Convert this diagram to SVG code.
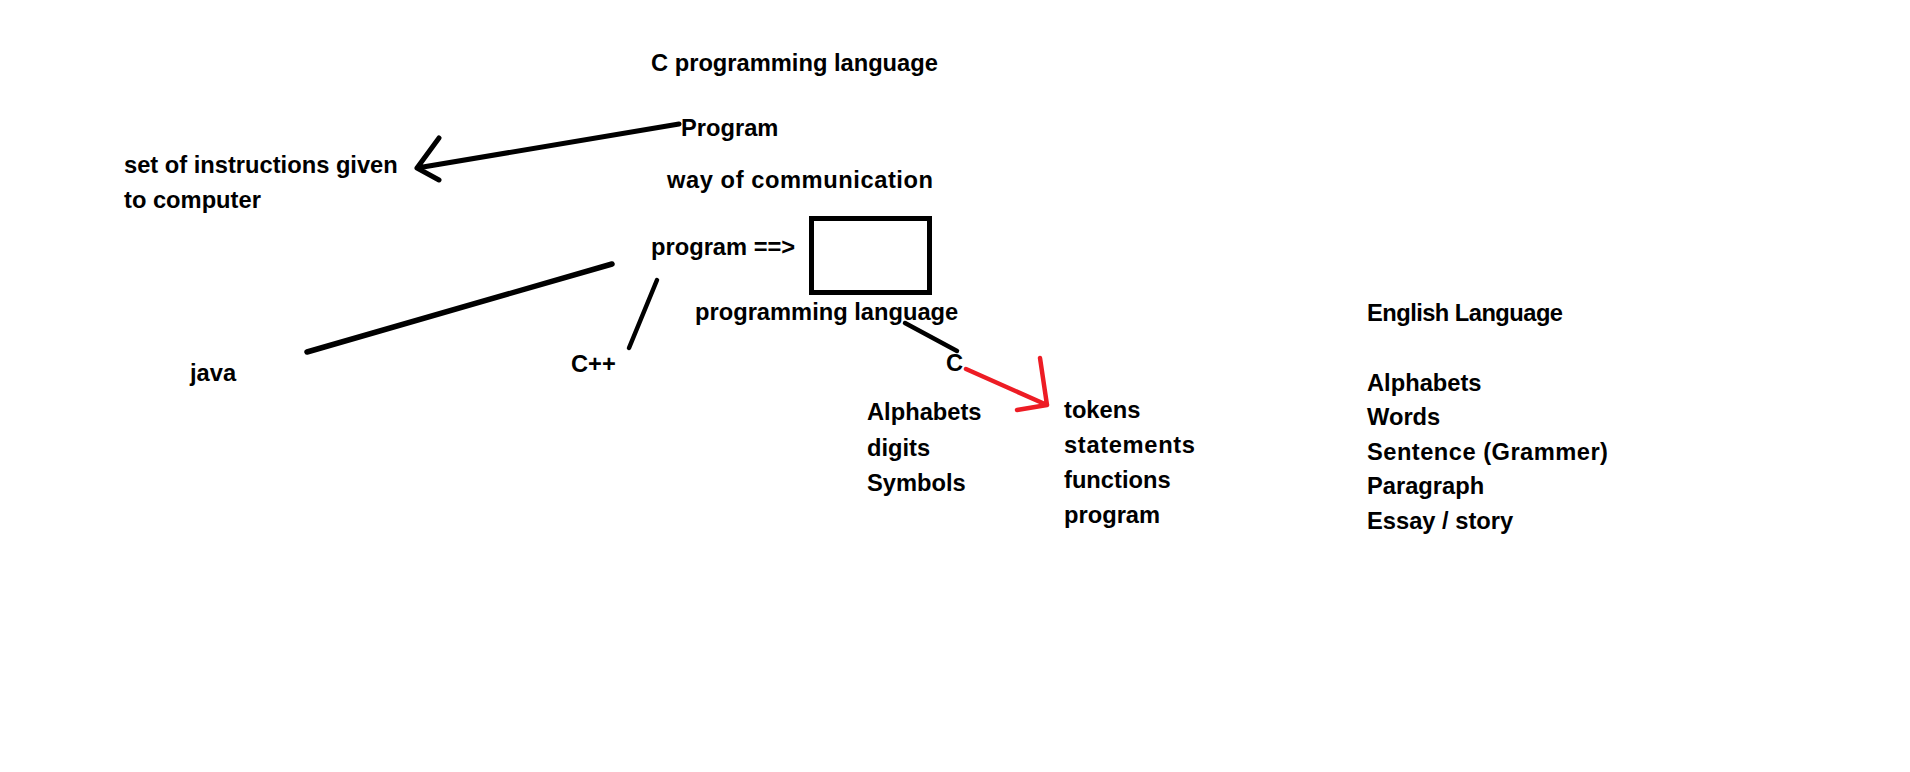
<svg xmlns="http://www.w3.org/2000/svg" width="1910" height="772" viewBox="0 0 1910 772">
<style>
text{font-family:"Liberation Sans",Arial,sans-serif;font-weight:bold;font-size:23.7px;fill:#000}
.k{stroke:#000;fill:none;stroke-linecap:round;stroke-linejoin:round}
.r{stroke:#ed1c24;fill:none;stroke-linecap:round;stroke-linejoin:round;stroke-width:4.5}
</style>
<rect width="1910" height="772" fill="#fff"/>
<g id="title"><text x="651" y="71">C programming language</text></g>
<g id="program"><text x="681" y="136">Program</text></g>
<g id="definition"><text x="124" y="173">set of instructions given</text><text x="124" y="208">to computer</text></g>
<g id="way"><text x="667" y="188" textLength="266" lengthAdjust="spacing">way of communication</text></g>
<g id="program-arrow"><text x="651" y="255">program ==&gt;</text></g>
<g id="box"><rect x="811.5" y="218.5" width="118" height="74" fill="none" stroke="#000" stroke-width="5"/></g>
<g id="proglang"><text x="695" y="320">programming language</text></g>
<g id="java"><text x="190" y="381">java</text></g>
<g id="cpp"><text x="571" y="372">C++</text></g>
<g id="c"><text x="946" y="371">C</text></g>
<g id="charset"><text x="867" y="420">Alphabets</text><text x="867" y="456">digits</text><text x="867" y="491">Symbols</text></g>
<g id="elements"><text x="1064" y="418">tokens</text><text x="1064" y="453" textLength="131" lengthAdjust="spacing">statements</text><text x="1064" y="488">functions</text><text x="1064" y="523">program</text></g>
<g id="english"><text x="1367" y="321" textLength="196" lengthAdjust="spacing">English Language</text><text x="1367" y="391">Alphabets</text><text x="1367" y="425">Words</text><text x="1367" y="460" textLength="241" lengthAdjust="spacing">Sentence (Grammer)</text><text x="1367" y="494">Paragraph</text><text x="1367" y="529">Essay / story</text></g>
<g id="connectors">
<path class="k" stroke-width="5" d="M679 124 L417 168 M439 138 L417 168 L439 180"/>
<path class="k" stroke-width="5.5" d="M612 264 L307 352"/>
<path class="k" stroke-width="4.5" d="M657 280 L629 348"/>
<path class="k" stroke-width="4.5" d="M905 323 L957 351"/>
<path class="r" d="M966 369 L1047 405 M1040 358 L1047 405 L1017 410"/>
</g>
</svg>
